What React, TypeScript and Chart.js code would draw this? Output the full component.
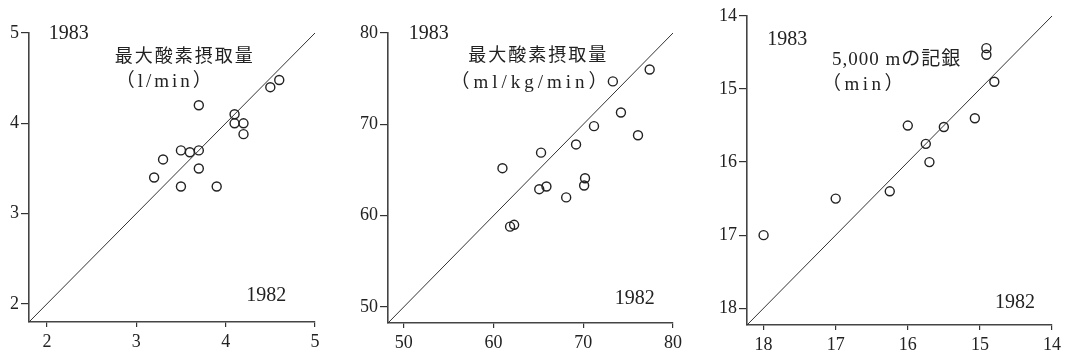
import React, { useEffect, useRef } from "react";
import { Chart, registerables } from "chart.js";

Chart.register(...registerables);

// Panel 1: 最大酸素摂取量 (l/min)
const absVo2_1982 = [3.2, 3.3, 3.5, 3.6, 3.7, 3.5, 3.7, 3.7, 3.9, 4.1, 4.1, 4.2, 4.2, 4.5, 4.6];
const absVo2_1983 = [3.4, 3.6, 3.7, 3.68, 3.7, 3.3, 3.5, 4.2, 3.3, 4.1, 4.0, 4.0, 3.88, 4.4, 4.48];
const absVo2Ticks = [2, 3, 4, 5];

// Panel 2: 最大酸素摂取量 (ml/kg/min)
const relVo2_1982 = [61.0, 65.3, 65.1, 65.9, 61.85, 62.3, 68.1, 69.2, 70.2, 70.1, 71.2, 73.3, 74.2, 76.1, 77.4];
const relVo2_1983 = [65.2, 66.9, 62.9, 63.2, 58.8, 59.0, 62.0, 67.8, 64.1, 63.3, 69.8, 74.7, 71.3, 68.8, 76.0];
const relVo2Ticks = [50, 60, 70, 80];

// Panel 3: 5,000 m の記録 (min)
const run5000_1982 = [18.0, 17.0, 16.25, 16.0, 15.75, 15.7, 15.5, 15.07, 14.8, 14.91, 14.91];
const run5000_1983 = [17.0, 16.5, 16.4, 15.5, 15.75, 16.0, 15.52, 15.4, 14.9, 14.44, 14.53];
const run5000Ticks = [14, 15, 16, 17, 18];

const SERIF = '"Liberation Serif", "DejaVu Serif", "Noto Sans CJK JP", serif';
const INK = "#222";

type Ann = { text: string; x: number; y: number; size: number; spacing?: number };

type PanelProps = {
  left: number;
  width: number;
  xs: number[];
  ys: number[];
  ticks: number[];
  min: number;
  max: number;
  reverse?: boolean;
  yWidth: number;
  xHeight: number;
  padTop: number;
  padRight: number;
  anns: Ann[];
};

function Panel(p: PanelProps) {
  const ref = useRef<HTMLCanvasElement | null>(null);
  useEffect(() => {
    if (!ref.current) return;
    const points = p.xs.map((x, i) => ({ x, y: p.ys[i] }));
    const textPlugin = {
      id: "panelTexts",
      afterDraw(chart: any) {
        const ctx = chart.ctx;
        const sx = chart.scales.x;
        const sy = chart.scales.y;
        ctx.save();
        ctx.fillStyle = INK;
        ctx.textAlign = "left";
        ctx.textBaseline = "middle";
        for (const a of p.anns) {
          ctx.font = `${a.size}px ${SERIF}`;
          (ctx as any).letterSpacing = `${a.spacing ?? 0}px`;
          ctx.fillText(a.text, sx.getPixelForValue(a.x), sy.getPixelForValue(a.y));
        }
        ctx.restore();
      },
    };
    const axisCommon = (isX: boolean) => ({
      type: "linear" as const,
      min: p.min,
      max: p.max,
      reverse: !!p.reverse,
      afterBuildTicks(scale: any) {
        scale.ticks = p.ticks.map((v) => ({ value: v }));
      },
      afterFit(scale: any) {
        if (isX) scale.height = p.xHeight;
        else scale.width = p.yWidth;
      },
      grid: {
        display: true,
        drawOnChartArea: false,
        drawTicks: true,
        tickLength: isX ? 5 : 8,
        color: "#333",
        lineWidth: 1.2,
      },
      border: { display: true, color: "#444", width: 1.6 },
      ticks: {
        color: INK,
        padding: isX ? 4 : 2,
        maxRotation: 0,
        autoSkip: false,
        font: { family: SERIF, size: 18 },
        callback: (v: any) => String(v),
      },
    });
    const chart = new Chart(ref.current, {
      type: "scatter",
      data: {
        datasets: [
          {
            type: "line",
            data: [
              { x: p.min, y: p.min },
              { x: p.max, y: p.max },
            ],
            borderColor: "#333",
            borderWidth: 1,
            pointRadius: 0,
            fill: false,
          } as any,
          {
            data: points,
            pointRadius: 4.5,
            pointBorderWidth: 1.4,
            pointBorderColor: INK,
            pointBackgroundColor: "rgba(0,0,0,0)",
            showLine: false,
          },
        ],
      },
      options: {
        animation: false,
        responsive: false,
        maintainAspectRatio: false,
        layout: { padding: { top: p.padTop, right: p.padRight, left: 0, bottom: 0 } },
        plugins: { legend: { display: false }, tooltip: { enabled: false } },
        scales: { x: axisCommon(true), y: axisCommon(false) } as any,
      },
      plugins: [textPlugin],
    });
    return () => chart.destroy();
  }, []);
  return (
    <canvas
      ref={ref}
      width={p.width}
      height={360}
      style={{ position: "absolute", left: p.left, top: 0, width: p.width, height: 360 }}
    />
  );
}

export default function App() {
  return (
    <div style={{ position: "fixed", left: 0, top: 0, width: 1067, height: 360, background: "#fff" }}>
      <Panel
        left={0}
        width={340}
        xs={absVo2_1982}
        ys={absVo2_1983}
        ticks={absVo2Ticks}
        min={1.8}
        max={5}
        yWidth={29}
        xHeight={38}
        padTop={33}
        padRight={25}
        anns={[
          { text: "1983", x: 2.02, y: 4.99, size: 20 },
          { text: "最大酸素摂取量", x: 2.76, y: 4.73, size: 18, spacing: 2 },
          { text: "（l/min）", x: 2.77, y: 4.46, size: 19, spacing: 3 },
          { text: "1982", x: 4.23, y: 2.09, size: 20 },
        ]}
      />
      <Panel
        left={340}
        width={360}
        xs={relVo2_1982}
        ys={relVo2_1983}
        ticks={relVo2Ticks}
        min={48.25}
        max={80}
        yWidth={48}
        xHeight={37}
        padTop={33}
        padRight={27}
        anns={[
          { text: "1983", x: 50.55, y: 79.9, size: 20 },
          { text: "最大酸素摂取量", x: 57.2, y: 77.4, size: 18, spacing: 2 },
          { text: "（ml/kg/min）", x: 55.2, y: 74.5, size: 19, spacing: 4 },
          { text: "1982", x: 73.5, y: 50.9, size: 20 },
        ]}
      />
      <Panel
        left={700}
        width={367}
        xs={run5000_1982}
        ys={run5000_1983}
        ticks={run5000Ticks}
        min={14}
        max={18.23}
        reverse
        yWidth={47}
        xHeight={35}
        padTop={16}
        padRight={15}
        anns={[
          { text: "1983", x: 17.95, y: 14.33, size: 20 },
          { text: "5,000 mの記銀", x: 17.05, y: 14.6, size: 19, spacing: 1 },
          { text: "（min）", x: 17.19, y: 14.95, size: 19, spacing: 3.5 },
          { text: "1982", x: 14.79, y: 17.92, size: 20 },
        ]}
      />
    </div>
  );
}
